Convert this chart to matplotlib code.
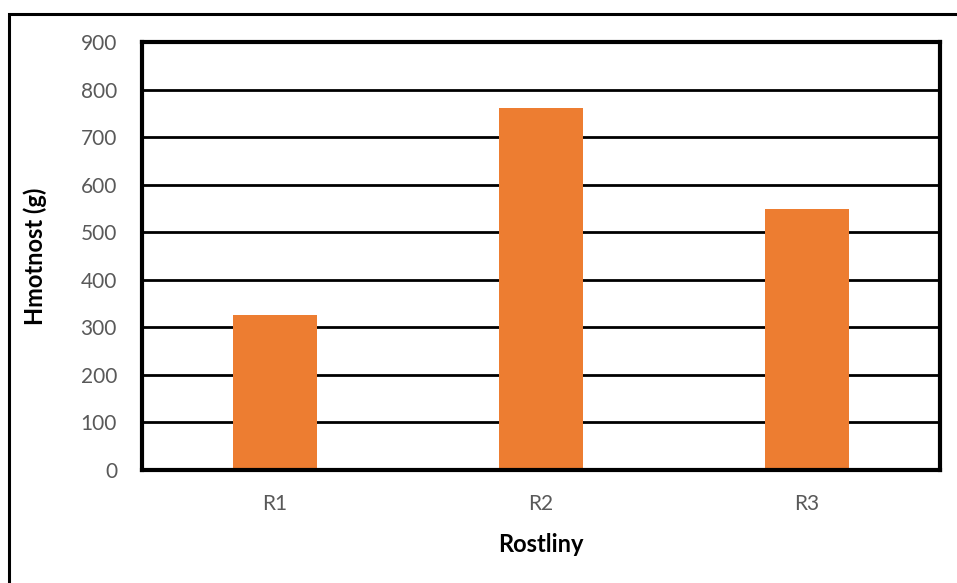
import matplotlib
matplotlib.use("Agg")
import matplotlib.pyplot as plt
from matplotlib.patches import Rectangle

categories = ["R1", "R2", "R3"]
values = [325, 762, 548]
yticks = [0, 100, 200, 300, 400, 500, 600, 700, 800, 900]

plt.rcParams["font.family"] = ["Lato", "DejaVu Sans"]

W, H = 957, 583
fig = plt.figure(figsize=(W / 100, H / 100), dpi=100)
fig.patch.set_facecolor("white")

# outer chart border (left and top visible)
fig.add_artist(Rectangle((9 / W, -0.05), 1.2, (H - 14) / H + 0.05,
                         transform=fig.transFigure, fill=False,
                         edgecolor="black", linewidth=2.2))

ax = fig.add_axes([142 / W, 1 - 470 / H, (940 - 142) / W, (470 - 42) / H])
x = range(len(categories))
ax.bar(x, values, width=0.315, color="#ED7D31", zorder=3)
ax.set_xlim(-0.5, len(categories) - 0.5)
ax.set_ylim(0, 900)
ax.set_yticks(yticks)
ax.set_xticks(list(x))
ax.set_xticklabels(categories)
ax.yaxis.grid(True, color="black", linewidth=2.0, zorder=1)
ax.set_axisbelow(True)
for s in ax.spines.values():
    s.set_linewidth(3.0)
    s.set_color("black")
    s.set_zorder(4)
ax.tick_params(axis="both", length=0, labelsize=15, labelcolor="#595959")
ax.tick_params(axis="y", pad=18)
ax.tick_params(axis="x", pad=17)
ax.set_ylabel("Hmotnost (g)", fontsize=17, fontweight="bold", labelpad=24)
ax.set_xlabel("Rostliny", fontsize=17, fontweight="bold", labelpad=14)

fig.savefig("out.png", dpi=100)
